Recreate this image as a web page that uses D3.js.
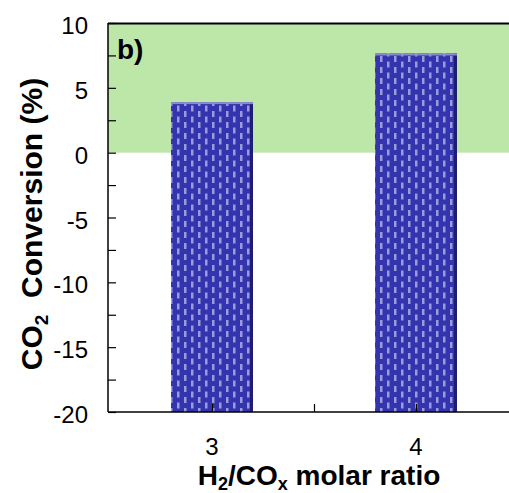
<!DOCTYPE html>
<html>
<head>
<meta charset="utf-8">
<script src="https://cdn.jsdelivr.net/npm/d3@7"></script>
<style>
	body { margin: 0; background: #fff; }
	svg { display: block; font-family: "Liberation Sans", Arial, sans-serif; }
</style>
</head>
<body>
<div id="chart"></div>
<script>
'use strict';

//Chart data
var ratios = [3, 4];
var conversions = [3.9, 7.65];
var yTicks = [-20, -15, -10, -5, 0, 5, 10];
var yMinorTicks = [-17.5, -12.5, -7.5, -2.5, 2.5, 7.5];
var xTicks = [3, 3.5, 4];
var positiveBand = [0, 10];

var width = 509, height = 493;
var plotLeft = 108, plotTop = 23, plotBottom = 412;

var svg = d3.select("#chart").append("svg")
	.attr("width", width)
	.attr("height", height);

var x = d3.scaleLinear().domain([2.5, 4.5]).range([110, 518]);
var y = d3.scaleLinear().domain([-20, 10]).range([plotBottom, plotTop]);

//Bar fill pattern (blue with light staggered dashes)
var defs = svg.append("defs");
var pat = defs.append("pattern")
	.attr("id", "dash")
	.attr("patternUnits", "userSpaceOnUse")
	.attr("width", 14)
	.attr("height", 11);
pat.append("rect").attr("width", 14).attr("height", 11).attr("fill", "#3434ae");
[[2, 1], [9, 6.5], [9, -4.5]].forEach(function(p) {
	pat.append("rect")
		.attr("x", p[0]).attr("y", p[1])
		.attr("width", 2.5).attr("height", 6)
		.attr("fill", "#9a9adc");
});

//Green band for positive conversion
svg.append("rect")
	.attr("x", plotLeft)
	.attr("y", y(positiveBand[1]))
	.attr("width", width - plotLeft)
	.attr("height", y(positiveBand[0]) - y(positiveBand[1]))
	.attr("fill", "#bde6a9");

//Top border
svg.append("line")
	.attr("x1", plotLeft).attr("x2", width)
	.attr("y1", plotTop + 0.5).attr("y2", plotTop + 0.5)
	.attr("stroke", "#000").attr("stroke-width", 2);

//Bars
var barW = 82;
var bars = svg.selectAll(".bar")
	.data(ratios.map(function(r, i) { return { ratio: r, value: conversions[i] }; }))
	.enter().append("g")
	.classed("bar", true);

bars.append("rect")
	.attr("x", function(d) { return x(d.ratio) - barW / 2; })
	.attr("y", function(d) { return y(d.value); })
	.attr("width", barW)
	.attr("height", function(d) { return y(-20) - y(d.value); })
	.attr("fill", "url(#dash)");

//Bevel edges
bars.append("rect")
	.attr("x", function(d) { return x(d.ratio) + barW / 2 - 3; })
	.attr("y", function(d) { return y(d.value); })
	.attr("width", 3)
	.attr("height", function(d) { return y(-20) - y(d.value); })
	.attr("fill", "#14145e").attr("opacity", 0.7);
bars.append("rect")
	.attr("x", function(d) { return x(d.ratio) - barW / 2; })
	.attr("y", function(d) { return y(d.value); })
	.attr("width", barW)
	.attr("height", 2)
	.attr("fill", "#8a8ad0");

//Y axis
var yAxis = svg.append("g")
	.attr("transform", "translate(" + plotLeft + ",0)")
	.call(d3.axisRight(y).tickValues(yTicks.concat(yMinorTicks)).tickSize(8).tickFormat(""));
yAxis.select(".domain").attr("d", "M0," + plotTop + "V" + plotBottom).attr("stroke-width", 1.5);
yAxis.selectAll(".tick line").attr("stroke-width", 1.2);

svg.selectAll(".ylab")
	.data(yTicks)
	.enter().append("text")
	.attr("x", 88)
	.attr("y", function(d) { return y(d) + 11; })
	.attr("text-anchor", "end")
	.attr("font-size", 24)
	.text(function(d) { return d; });

//X axis
var xAxis = svg.append("g")
	.attr("transform", "translate(0," + plotBottom + ")")
	.call(d3.axisTop(x).tickValues(xTicks).tickSize(8).tickFormat(""));
xAxis.select(".domain").attr("d", "M" + plotLeft + ",0H" + width).attr("stroke-width", 1.5);
xAxis.selectAll(".tick line").attr("stroke-width", 1.2);

svg.selectAll(".xlab")
	.data(ratios)
	.enter().append("text")
	.attr("x", function(d) { return x(d); })
	.attr("y", 455)
	.attr("text-anchor", "middle")
	.attr("font-size", 24)
	.text(function(d) { return d; });

//Axis titles
var xTitle = svg.append("text")
	.attr("x", 319)
	.attr("y", 485)
	.attr("text-anchor", "middle")
	.attr("font-size", 28)
	.attr("font-weight", "bold");
xTitle.append("tspan").text("H");
xTitle.append("tspan").attr("font-size", 18).attr("dy", 5).text("2");
xTitle.append("tspan").attr("dy", -5).text("/CO");
xTitle.append("tspan").attr("font-size", 18).attr("dy", 5).text("x");
xTitle.append("tspan").attr("dy", -5).text(" molar ratio");

var yTitle = svg.append("text")
	.attr("transform", "translate(42,224) rotate(-90)")
	.attr("text-anchor", "middle")
	.attr("font-size", 30)
	.attr("font-weight", "bold");
yTitle.append("tspan").text("CO");
yTitle.append("tspan").attr("font-size", 19).attr("dy", 6).text("2");
yTitle.append("tspan").attr("dy", -6).text("\u00a0 Conversion (%)");

//Panel label
svg.append("text")
	.attr("x", 117)
	.attr("y", 59)
	.attr("font-size", 28)
	.attr("font-weight", "bold")
	.text("b)");
</script>
</body>
</html>
